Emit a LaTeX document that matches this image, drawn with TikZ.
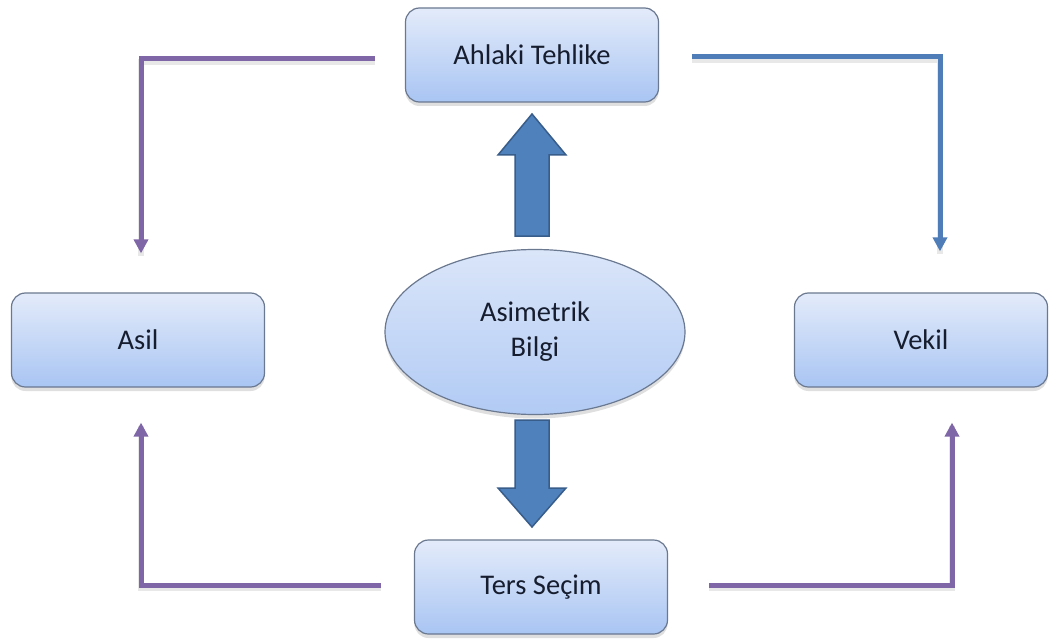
\documentclass[tikz,border=0pt]{standalone}
\usepackage{fontspec}
\setmainfont{Carlito}
\usetikzlibrary{shapes.geometric,arrows.meta,shadows}

\definecolor{boxtop}{HTML}{E3EBFA}
\definecolor{boxbot}{HTML}{A9C5F3}
\definecolor{boxline}{HTML}{6A7890}
\definecolor{txt}{HTML}{161D2E}
\definecolor{purp}{HTML}{7F66A6}
\definecolor{blueln}{HTML}{4F7DB8}
\definecolor{bigfill}{HTML}{4F81BD}
\definecolor{bigline}{HTML}{385D8A}

\tikzset{
  box/.style={draw=boxline, line width=1.2pt, rounded corners=14pt,
    top color=boxtop, bottom color=boxbot,
    minimum width=253pt, minimum height=94pt, inner sep=0pt,
    text=txt, font=\fontsize{28.5}{35}\selectfont,
    drop shadow={opacity=0.25, shadow xshift=0pt, shadow yshift=-4pt}},
  oval/.style={ellipse, draw=boxline, line width=1.2pt,
    top color=boxtop!85!boxbot, bottom color=boxbot!90!white,
    minimum width=300pt, minimum height=165pt, inner sep=0pt,
    text=txt, font=\fontsize{28.5}{35}\selectfont, align=center,
    drop shadow={opacity=0.25, shadow xshift=0pt, shadow yshift=-4pt}},
  link/.style={line width=5pt, -{Triangle[width=14pt,length=14pt]},
    preaction={draw=black!25, opacity=0.35, line width=6pt,
      transform canvas={yshift=-3pt}, arrows=-}},
  bigarrow/.style={fill=bigfill, draw=bigline, line width=1.5pt, line join=miter}
}

\begin{document}
\begin{tikzpicture}[x=1pt, y=-1pt]
  \useasboundingbox (0,0) rectangle (1049,639);
  \fill[white] (0,0) rectangle (1049,639);

  % the five nodes
  \node[box]  (aht)  at (532,55)  {Ahlaki Tehlike};
  \node[box]  (asil) at (138,340) {Asil};
  \node[box]  (vek)  at (921,340) {Vekil};
  \node[box]  (ters) at (541,587) {Ters Seçim};
  \node[oval] (ab)   at (535,332) {Asimetrik\\Bilgi};

  % block arrows out of the ellipse
  \draw[bigarrow] (515,236) -- (515,155) -- (498,155) -- (532,114)
    -- (566,155) -- (549,155) -- (549,236) -- cycle;
  \draw[bigarrow] (515,420) -- (515,488) -- (498,488) -- (532,527)
    -- (566,488) -- (549,488) -- (549,420) -- cycle;

  % elbow connectors
  \draw[link, purp, shorten <=30pt, shorten >=39pt]
    ([yshift=-4pt]aht.west) -| ([xshift=3pt]asil.north);
  \draw[link, blueln, shorten <=33pt, shorten >=41pt]
    ([yshift=-2pt]aht.east) -| ([xshift=19pt]vek.north);
  \draw[link, purp, shorten <=33pt, shorten >=35pt]
    ([yshift=2pt]ters.west) -| ([xshift=3pt]asil.south);
  \draw[link, purp, shorten <=41pt, shorten >=35pt]
    ([yshift=2pt]ters.east) -| ([xshift=31pt]vek.south);
\end{tikzpicture}
\end{document}
